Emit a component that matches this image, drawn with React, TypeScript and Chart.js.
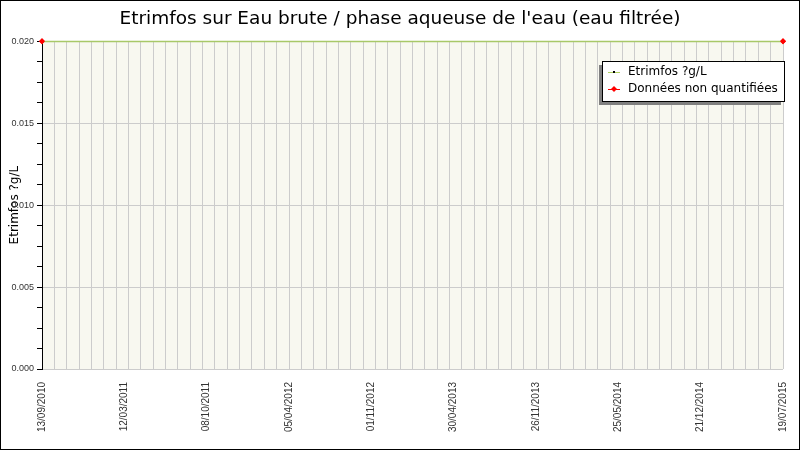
import React, { useEffect, useRef } from "react";
import { Chart, registerables } from "chart.js";

Chart.register(...registerables);

const TITLE = "Etrimfos sur Eau brute / phase aqueuse de l'eau (eau filtrée)";
const Y_TITLE = "Etrimfos ?g/L";
const DATE_LABELS = [
  "13/09/2010",
  "12/03/2011",
  "08/10/2011",
  "05/04/2012",
  "01/11/2012",
  "30/04/2013",
  "26/11/2013",
  "25/05/2014",
  "21/12/2014",
  "19/07/2015",
];
const X_GRID_STEPS = 60; // vertical grid intervals across the date range
const SERIES_LABEL = "Etrimfos ?g/L";
const SERIES_X: number[] = [];
const SERIES_Y: number[] = [];
const NQ_LABEL = "Données non quantifiées";
const NQ_X = [0, 60];
const NQ_Y = [0.02, 0.02];
const Y_MIN = 0;
const Y_MAX = 0.02;
const Y_MINOR = 0.00125;
const Y_MAJOR_EVERY = 4;

const FONT = "'DejaVu Sans', sans-serif";
const TICK_FONT = "'Liberation Sans', Arial, sans-serif";

const bgPlugin = {
  id: "bgPlugin",
  beforeDraw(chart: any) {
    const { ctx, chartArea } = chart;
    ctx.save();
    ctx.fillStyle = "#ffffff";
    ctx.fillRect(0, 0, chart.width, chart.height);
    ctx.fillStyle = "#f8f8f0";
    ctx.fillRect(
      chartArea.left,
      chartArea.top,
      chartArea.right - chartArea.left,
      chartArea.bottom - chartArea.top
    );
    ctx.restore();
  },
  afterDraw(chart: any) {
    const { ctx, chartArea } = chart;
    ctx.save();
    // top frame line of the plot area
    const ty = Math.round(chartArea.top) + 0.5;
    ctx.strokeStyle = "#a8c868";
    ctx.lineWidth = 1.5;
    ctx.beginPath();
    ctx.moveTo(chartArea.left + 1, ty);
    ctx.lineTo(chartArea.right, ty);
    ctx.stroke();
    // re-draw the non-quantified markers on top of the frame line
    const meta = chart.getDatasetMeta(1);
    ctx.fillStyle = "#ff0000";
    meta.data.forEach((p: any) => {
      ctx.beginPath();
      ctx.moveTo(p.x, p.y - 3);
      ctx.lineTo(p.x + 3, p.y);
      ctx.lineTo(p.x, p.y + 3);
      ctx.lineTo(p.x - 3, p.y);
      ctx.closePath();
      ctx.fill();
    });
    // legend box
    const bx = 602, by = 61, bw = 182, bh = 40;
    ctx.fillStyle = "#808080";
    ctx.fillRect(bx - 3, by + 4, bw, bh);
    ctx.fillStyle = "#ffffff";
    ctx.fillRect(bx, by, bw, bh);
    ctx.strokeStyle = "#000000";
    ctx.lineWidth = 1;
    ctx.strokeRect(bx + 0.5, by + 0.5, bw, bh);
    const ds = chart.data.datasets;
    ds.forEach((d: any, i: number) => {
      const y = by + 11 + i * 17;
      ctx.strokeStyle = d.borderColor;
      ctx.lineWidth = 1;
      ctx.beginPath();
      ctx.moveTo(bx + 6, y + 0.5);
      ctx.lineTo(bx + 18, y + 0.5);
      ctx.stroke();
      ctx.fillStyle = d.pointBackgroundColor;
      if (i === 0) {
        ctx.fillRect(bx + 11, y - 1, 2, 2);
      } else {
        ctx.beginPath();
        ctx.moveTo(bx + 12, y - 3);
        ctx.lineTo(bx + 15, y);
        ctx.lineTo(bx + 12, y + 3);
        ctx.lineTo(bx + 9, y);
        ctx.closePath();
        ctx.fill();
      }
      ctx.fillStyle = "#000000";
      ctx.font = `12px ${FONT}`;
      ctx.textBaseline = "middle";
      ctx.textAlign = "left";
      ctx.fillText(d.label, bx + 26, y);
    });
    // outer frame
    ctx.strokeStyle = "#000000";
    ctx.lineWidth = 1;
    ctx.strokeRect(0.5, 0.5, chart.width - 1, chart.height - 1);
    ctx.restore();
  },
};

export default function App() {
  const ref = useRef<HTMLCanvasElement | null>(null);

  useEffect(() => {
    document.body.style.margin = "0";
    if (!ref.current) return;
    const chart = new Chart(ref.current, {
      type: "line",
      data: {
        datasets: [
          {
            label: SERIES_LABEL,
            data: SERIES_X.map((x, i) => ({ x, y: SERIES_Y[i] })),
            borderColor: "#b0d060",
            backgroundColor: "#000000",
            pointBackgroundColor: "#000000",
            pointBorderColor: "#000000",
            pointRadius: 1,
            borderWidth: 1,
            xAxisID: "x",
          },
          {
            label: NQ_LABEL,
            data: NQ_X.map((x, i) => ({ x, y: NQ_Y[i] })),
            borderColor: "#ff0000",
            backgroundColor: "#ff0000",
            pointBackgroundColor: "#ff0000",
            pointBorderColor: "#ff0000",
            pointStyle: "rectRot",
            pointRadius: 3,
            borderWidth: 0,
            showLine: false,
            clip: false as any,
            xAxisID: "x",
          },
        ],
      },
      options: {
        animation: false,
        responsive: false,
        maintainAspectRatio: false,
        layout: { padding: { left: 10, right: 10, top: 0, bottom: 0 } },
        plugins: {
          legend: { display: false },
          tooltip: { enabled: false },
          title: {
            display: true,
            text: TITLE,
            color: "#000000",
            font: { family: FONT, size: 18.5, weight: "normal" },
            padding: { top: 8, bottom: 11 },
          },
        },
        scales: {
          x: {
            type: "linear",
            position: "bottom",
            min: 0,
            max: X_GRID_STEPS,
            afterBuildTicks: (s: any) => {
              s.ticks = DATE_LABELS.map((_, i) => ({
                value: (i * X_GRID_STEPS) / (DATE_LABELS.length - 1),
              }));
            },
            ticks: {
              autoSkip: false,
              minRotation: 90,
              maxRotation: 90,
              padding: 5,
              color: "#333333",
              font: { family: TICK_FONT, size: 10 },
              callback: (_v: any, i: number) => DATE_LABELS[i],
            },
            grid: { display: false },
            border: { display: false },
            afterFit: (s: any) => {
              s.height = 81;
            },
          },
          xg: {
            type: "linear",
            position: "bottom",
            min: 0,
            max: X_GRID_STEPS,
            afterBuildTicks: (s: any) => {
              const t = [];
              for (let i = 0; i <= X_GRID_STEPS; i++) t.push({ value: i });
              s.ticks = t;
            },
            ticks: { display: false },
            grid: {
              color: "#cccccc",
              tickColor: "#000000",
              tickLength: 5,
              lineWidth: 1,
            },
            border: { display: true, color: "#000000" },
            afterFit: (s: any) => {
              s.height = 0;
            },
          },
          y: {
            type: "linear",
            min: Y_MIN,
            max: Y_MAX,
            afterBuildTicks: (s: any) => {
              const t = [];
              const n = Math.round((Y_MAX - Y_MIN) / Y_MINOR);
              for (let i = 0; i <= n; i++) t.push({ value: Y_MIN + i * Y_MINOR });
              s.ticks = t;
            },
            ticks: {
              autoSkip: false,
              padding: 3,
              color: "#333333",
              font: { family: TICK_FONT, size: 9 },
              callback: (v: any, i: number) =>
                i % Y_MAJOR_EVERY === 0 ? Number(v).toFixed(3) : "",
            },
            grid: {
              color: (ctx: any) => {
                const i = ctx.index;
                if (i % Y_MAJOR_EVERY !== 0) return "rgba(0,0,0,0)";
                return "#cccccc";
              },
              tickColor: "#000000",
              tickLength: 5,
            },
            border: { display: true, color: "#000000" },
            title: {
              display: true,
              text: Y_TITLE,
              color: "#000000",
              font: { family: FONT, size: 12, lineHeight: 0.75 },
              padding: { top: 0, bottom: 0 },
            },
            afterFit: (s: any) => {
              s.width = 32;
            },
          },
        },
      } as any,
      plugins: [bgPlugin],
    });
    return () => chart.destroy();
  }, []);

  return (
    <div style={{ width: 800, height: 450 }}>
      <canvas ref={ref} width={800} height={450} style={{ display: "block" }} />
    </div>
  );
}
